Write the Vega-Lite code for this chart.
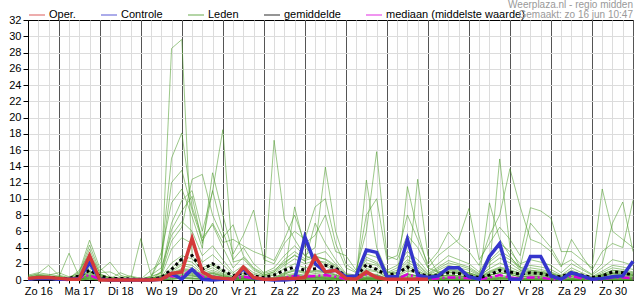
{
"$schema":"https://vega.github.io/schema/vega-lite/v6.json",
"width":605,"height":260,
"autosize":{"type":"none"},
"padding":{"left":28,"top":20,"right":2,"bottom":20},
"background":"white",
"title":{"text":"Weerplaza.nl - regio midden","subtitle":"Gemaakt: zo 16 jun 10:47","anchor":"end","frame":"group","fontSize":10,"fontWeight":"normal","font":"Liberation Sans","color":"#999999","subtitleFont":"Liberation Sans","subtitleFontSize":10,"subtitleColor":"#999999","subtitlePadding":0,"offset":-14},
"data":{"values":[
{"time":"2024-06-16T06:00:00Z","oper":0.2,"ctrl":0.1,"gem":0.1,"med":0.1,"a":0.1,"b":0.2,"c":0,"d":0.3,"e":0.1,"f":0,"g":0.4,"h":0.2,"i":0.1,"j":0,"k":0.3,"l":0.5,"m":0.1,"n":0.2,"o":0,"p":0.1,"q":0.6,"r":0.2,"s":0,"t":0.1,"u":0.3,"v":0.2,"w":0.1,"x":0,"y":0.2,"z":0.1},
{"time":"2024-06-16T12:00:00Z","oper":0.3,"ctrl":0.2,"gem":0.2,"med":0.2,"a":0.3,"b":0.5,"c":0.1,"d":0.6,"e":0.2,"f":0.1,"g":0.8,"h":0.4,"i":0.3,"j":0.1,"k":0.5,"l":0.7,"m":0.2,"n":0.4,"o":0.1,"p":0.3,"q":0.9,"r":0.5,"s":0.1,"t":0.2,"u":0.6,"v":0.3,"w":0.2,"x":0.1,"y":0.4,"z":0.3},
{"time":"2024-06-16T18:00:00Z","oper":0.3,"ctrl":0.2,"gem":0.3,"med":0.2,"a":0.2,"b":0.4,"c":0.1,"d":0.5,"e":0.3,"f":0.1,"g":1.8,"h":0.3,"i":0.2,"j":0.1,"k":0.4,"l":0.6,"m":0.2,"n":0.3,"o":0.1,"p":0.2,"q":0.7,"r":0.4,"s":0.1,"t":0.2,"u":0.5,"v":0.3,"w":0.1,"x":0.1,"y":0.3,"z":0.2},
{"time":"2024-06-17T00:00:00Z","oper":0.2,"ctrl":0.1,"gem":0.2,"med":0.1,"a":0.1,"b":0.3,"c":0,"d":0.4,"e":0.2,"f":0,"g":0.6,"h":0.2,"i":0.1,"j":0,"k":0.3,"l":0.9,"m":0.1,"n":0.2,"o":0,"p":0.1,"q":0.5,"r":0.3,"s":0,"t":0.1,"u":0.4,"v":0.2,"w":0.1,"x":0,"y":0.2,"z":0.1},
{"time":"2024-06-17T06:00:00Z","oper":0.1,"ctrl":0.1,"gem":0.2,"med":0,"a":0,"b":0.1,"c":0,"d":0.2,"e":0.1,"f":0,"g":0.3,"h":0.1,"i":0,"j":0,"k":3.3,"l":0.4,"m":0,"n":0.1,"o":0,"p":0,"q":0.2,"r":0.1,"s":0,"t":0,"u":0.2,"v":0.1,"w":0,"x":0,"y":0.1,"z":0},
{"time":"2024-06-17T12:00:00Z","oper":0.1,"ctrl":0.2,"gem":0.5,"med":0.3,"a":0.3,"b":0.6,"c":0.1,"d":1.0,"e":0.2,"f":0,"g":0.5,"h":0.4,"i":0.1,"j":0.1,"k":0.4,"l":0.8,"m":0.1,"n":0.3,"o":0,"p":0.2,"q":1.2,"r":0.5,"s":0.1,"t":0.1,"u":0.6,"v":0.3,"w":0.2,"x":0,"y":0.4,"z":0.2},
{"time":"2024-06-17T18:00:00Z","oper":3.0,"ctrl":2.1,"gem":1.2,"med":0.6,"a":1.2,"b":3.8,"c":0.3,"d":4.9,"e":0.6,"f":0.1,"g":2.6,"h":1.0,"i":0.4,"j":0.2,"k":0.8,"l":4.3,"m":0.3,"n":0.9,"o":0.1,"p":0.5,"q":3.2,"r":1.5,"s":0.2,"t":0.4,"u":2.2,"v":0.7,"w":0.5,"x":0.1,"y":1.1,"z":0.6},
{"time":"2024-06-18T00:00:00Z","oper":0,"ctrl":0.1,"gem":0.5,"med":0.1,"a":0.3,"b":0.8,"c":0.1,"d":1.5,"e":0.2,"f":0,"g":0.6,"h":0.4,"i":0.1,"j":0,"k":0.3,"l":1.1,"m":0.1,"n":0.3,"o":0,"p":0.2,"q":0.9,"r":0.5,"s":0.1,"t":0.1,"u":0.7,"v":0.2,"w":0.2,"x":0,"y":0.4,"z":0.3},
{"time":"2024-06-18T06:00:00Z","oper":0,"ctrl":0,"gem":0.2,"med":0,"a":0.1,"b":0.2,"c":0,"d":0.4,"e":0.1,"f":0,"g":0.3,"h":0.1,"i":0,"j":0,"k":0.1,"l":2.2,"m":0,"n":0.1,"o":0,"p":0,"q":1.0,"r":0.2,"s":0,"t":0,"u":0.3,"v":0.1,"w":0,"x":0,"y":0.1,"z":0.1},
{"time":"2024-06-18T12:00:00Z","oper":0,"ctrl":0,"gem":0.2,"med":0,"a":0,"b":0.1,"c":0,"d":0.2,"e":0,"f":0,"g":0.1,"h":0.3,"i":0,"j":0,"k":0,"l":0.6,"m":0,"n":0.1,"o":0,"p":0,"q":0.4,"r":0.1,"s":0,"t":0,"u":0.1,"v":0,"w":0,"x":0,"y":0.9,"z":0},
{"time":"2024-06-18T18:00:00Z","oper":0,"ctrl":0,"gem":0.1,"med":0,"a":0,"b":0,"c":0,"d":0.1,"e":0,"f":0,"g":0.2,"h":0.5,"i":0,"j":0,"k":0,"l":0.2,"m":0,"n":0,"o":0,"p":0,"q":0.1,"r":0,"s":0,"t":0,"u":0,"v":0,"w":0,"x":0,"y":0.4,"z":0},
{"time":"2024-06-19T00:00:00Z","oper":0,"ctrl":0,"gem":0.1,"med":0,"a":0,"b":0,"c":0,"d":0.1,"e":0,"f":0,"g":0.1,"h":0.2,"i":0,"j":0,"k":0,"l":0.1,"m":0,"n":0,"o":0,"p":5.1,"q":0.1,"r":0,"s":0,"t":0,"u":0,"v":0,"w":0,"x":0,"y":0.1,"z":0},
{"time":"2024-06-19T06:00:00Z","oper":0,"ctrl":0,"gem":0.1,"med":0,"a":0,"b":0.2,"c":0,"d":0.3,"e":0.1,"f":0,"g":0.5,"h":0.1,"i":0,"j":0,"k":0.2,"l":0.4,"m":0,"n":0.1,"o":0,"p":0.6,"q":1.2,"r":0.2,"s":0,"t":0,"u":0.3,"v":0.1,"w":0,"x":0,"y":0.2,"z":0},
{"time":"2024-06-19T12:00:00Z","oper":0.1,"ctrl":0.1,"gem":0.3,"med":0.1,"a":0.2,"b":0.6,"c":0.1,"d":2.8,"e":0.3,"f":0,"g":0.8,"h":0.4,"i":0.1,"j":0,"k":0.3,"l":3.4,"m":0.2,"n":0.5,"o":0,"p":1.5,"q":2.2,"r":0.5,"s":1.0,"t":0.1,"u":1.0,"v":0.3,"w":0.2,"x":0,"y":0.4,"z":0.2},
{"time":"2024-06-19T18:00:00Z","oper":0.8,"ctrl":0.8,"gem":1.3,"med":0.5,"a":1.5,"b":6.2,"c":0.3,"d":15.0,"e":0.9,"f":0.1,"g":4.8,"h":1.2,"i":0.5,"j":0.2,"k":0.8,"l":9.5,"m":0.4,"n":3.8,"o":0.1,"p":5.5,"q":12.0,"r":1.0,"s":28.5,"t":0.3,"u":7.0,"v":0.6,"w":0.7,"x":0.1,"y":2.1,"z":0.5},
{"time":"2024-06-20T00:00:00Z","oper":1.0,"ctrl":0.1,"gem":2.6,"med":0.4,"a":2.5,"b":8.5,"c":0.6,"d":18.1,"e":1.4,"f":0.3,"g":6.5,"h":2.0,"i":0.8,"j":0.3,"k":1.2,"l":11.2,"m":0.7,"n":5.2,"o":0.2,"p":7.2,"q":13.5,"r":1.8,"s":29.6,"t":0.5,"u":9.8,"v":1.1,"w":1.3,"x":0.2,"y":3.0,"z":0.9},
{"time":"2024-06-20T06:00:00Z","oper":5.1,"ctrl":1.3,"gem":3.0,"med":1.4,"a":2.2,"b":10.3,"c":0.5,"d":9.0,"e":1.3,"f":0.2,"g":12.4,"h":1.8,"i":0.7,"j":0.3,"k":1.1,"l":7.8,"m":0.6,"n":4.5,"o":0.2,"p":6.0,"q":8.6,"r":1.5,"s":3.0,"t":0.5,"u":11.0,"v":0.9,"w":1.2,"x":0.1,"y":2.6,"z":0.8},
{"time":"2024-06-20T12:00:00Z","oper":1.0,"ctrl":0.1,"gem":1.3,"med":0.4,"a":1.0,"b":4.5,"c":0.3,"d":5.2,"e":0.6,"f":0.1,"g":13.0,"h":0.8,"i":0.3,"j":0.1,"k":0.5,"l":3.9,"m":0.3,"n":2.2,"o":0.1,"p":3.0,"q":4.8,"r":0.7,"s":1.5,"t":0.2,"u":6.0,"v":0.4,"w":0.6,"x":0.1,"y":1.2,"z":0.4},
{"time":"2024-06-20T18:00:00Z","oper":0.3,"ctrl":0,"gem":2.0,"med":0.4,"a":1.5,"b":11.0,"c":0.4,"d":6.8,"e":0.9,"f":0.2,"g":8.0,"h":1.2,"i":0.5,"j":0.2,"k":0.8,"l":13.2,"m":0.4,"n":3.1,"o":0.1,"p":4.2,"q":7.0,"r":1.0,"s":2.0,"t":0.4,"u":10.9,"v":0.6,"w":0.8,"x":0.1,"y":1.8,"z":0.6},
{"time":"2024-06-21T00:00:00Z","oper":0.2,"ctrl":0.1,"gem":1.2,"med":0.2,"a":0.8,"b":6.0,"c":0.2,"d":4.0,"e":0.5,"f":0.1,"g":5.2,"h":0.7,"i":0.3,"j":0.1,"k":0.4,"l":8.0,"m":0.2,"n":1.9,"o":0.1,"p":2.5,"q":4.6,"r":0.6,"s":1.2,"t":0.2,"u":18.5,"v":0.3,"w":0.5,"x":0.1,"y":1.0,"z":0.3},
{"time":"2024-06-21T06:00:00Z","oper":0.1,"ctrl":0.1,"gem":0.5,"med":0.1,"a":0.3,"b":2.5,"c":0.1,"d":1.5,"e":0.2,"f":0,"g":6.8,"h":0.2,"i":0.1,"j":0,"k":0.1,"l":3.2,"m":0.1,"n":0.7,"o":0,"p":0.9,"q":5.0,"r":0.2,"s":0.4,"t":0.1,"u":2.2,"v":0.1,"w":0.2,"x":0,"y":0.4,"z":0.1},
{"time":"2024-06-21T12:00:00Z","oper":1.6,"ctrl":1.4,"gem":0.9,"med":0.4,"a":0.6,"b":4.0,"c":0.2,"d":2.8,"e":0.4,"f":0.1,"g":3.0,"h":0.5,"i":0.2,"j":0.1,"k":0.3,"l":5.5,"m":0.2,"n":1.3,"o":0,"p":1.8,"q":4.2,"r":0.5,"s":0.9,"t":0.1,"u":2.6,"v":0.3,"w":0.4,"x":0,"y":0.8,"z":0.2},
{"time":"2024-06-21T18:00:00Z","oper":0.3,"ctrl":0.2,"gem":0.5,"med":0.2,"a":0.3,"b":2.0,"c":0.1,"d":1.4,"e":0.2,"f":0,"g":1.5,"h":0.2,"i":0.1,"j":0,"k":0.1,"l":8.6,"m":0.1,"n":0.7,"o":0,"p":0.9,"q":3.5,"r":0.2,"s":0.4,"t":0.1,"u":1.2,"v":0.1,"w":0.2,"x":0,"y":0.4,"z":0.1},
{"time":"2024-06-22T00:00:00Z","oper":0.1,"ctrl":0.1,"gem":0.3,"med":0.1,"a":0.1,"b":0.9,"c":0,"d":0.6,"e":0.1,"f":0,"g":0.8,"h":0.1,"i":0,"j":0,"k":0.1,"l":2.5,"m":0,"n":0.4,"o":0,"p":0.5,"q":3.0,"r":0.1,"s":0.2,"t":0,"u":0.6,"v":0.1,"w":0.1,"x":0,"y":0.2,"z":0},
{"time":"2024-06-22T06:00:00Z","oper":0.1,"ctrl":0,"gem":0.6,"med":0.1,"a":0.2,"b":1.5,"c":0.1,"d":1.0,"e":0.1,"f":0,"g":1.2,"h":17.2,"i":0.1,"j":0,"k":0.2,"l":2.0,"m":0.1,"n":0.6,"o":0,"p":0.8,"q":2.4,"r":0.2,"s":0.3,"t":0,"u":1.0,"v":0.1,"w":0.2,"x":0,"y":0.3,"z":0.1},
{"time":"2024-06-22T12:00:00Z","oper":0.2,"ctrl":0,"gem":1.2,"med":0.3,"a":0.7,"b":3.0,"c":0.2,"d":2.5,"e":0.4,"f":0.1,"g":2.2,"h":7.5,"i":0.3,"j":0.1,"k":0.5,"l":4.5,"m":0.2,"n":1.4,"o":0.1,"p":1.8,"q":5.0,"r":0.6,"s":0.9,"t":0.1,"u":2.0,"v":0.3,"w":0.4,"x":0.1,"y":0.8,"z":0.2},
{"time":"2024-06-22T18:00:00Z","oper":0.2,"ctrl":0.1,"gem":1.6,"med":0.5,"a":1.2,"b":4.2,"c":0.3,"d":3.5,"e":0.6,"f":0.1,"g":3.0,"h":5.0,"i":0.4,"j":0.2,"k":9.0,"l":6.0,"m":0.4,"n":2.0,"o":0.1,"p":2.6,"q":8.0,"r":0.8,"s":1.3,"t":0.2,"u":3.1,"v":0.5,"w":0.7,"x":0.1,"y":1.1,"z":0.4},
{"time":"2024-06-23T00:00:00Z","oper":0.3,"ctrl":5.3,"gem":1.2,"med":0.4,"a":0.9,"b":3.0,"c":0.2,"d":2.6,"e":0.4,"f":0.1,"g":2.4,"h":3.0,"i":0.3,"j":0.1,"k":4.0,"l":5.0,"m":0.3,"n":1.5,"o":0.1,"p":2.0,"q":4.5,"r":0.6,"s":1.0,"t":0.2,"u":2.3,"v":0.4,"w":0.5,"x":0.1,"y":0.8,"z":0.3},
{"time":"2024-06-23T06:00:00Z","oper":2.9,"ctrl":2.0,"gem":1.4,"med":0.5,"a":1.1,"b":4.0,"c":0.3,"d":3.1,"e":0.5,"f":0.1,"g":2.8,"h":2.5,"i":0.4,"j":0.1,"k":3.0,"l":9.0,"m":0.3,"n":1.8,"o":0.1,"p":2.4,"q":5.5,"r":0.8,"s":1.2,"t":0.2,"u":7.0,"v":0.4,"w":0.6,"x":0.1,"y":1.0,"z":0.3},
{"time":"2024-06-23T12:00:00Z","oper":1.0,"ctrl":1.0,"gem":1.8,"med":0.6,"a":1.0,"b":13.9,"c":0.2,"d":3.5,"e":0.5,"f":0.1,"g":2.6,"h":2.0,"i":0.4,"j":0.1,"k":2.5,"l":10.0,"m":0.3,"n":1.7,"o":0.1,"p":2.2,"q":8.0,"r":0.7,"s":1.1,"t":0.2,"u":4.5,"v":0.4,"w":0.6,"x":0.1,"y":0.9,"z":0.3},
{"time":"2024-06-23T18:00:00Z","oper":1.2,"ctrl":1.2,"gem":1.5,"med":0.4,"a":0.6,"b":6.0,"c":0.2,"d":2.0,"e":0.3,"f":0.1,"g":1.8,"h":1.2,"i":0.2,"j":0.1,"k":1.6,"l":4.5,"m":0.2,"n":1.1,"o":0,"p":1.5,"q":3.5,"r":0.5,"s":0.7,"t":0.1,"u":2.5,"v":0.3,"w":0.4,"x":0,"y":0.6,"z":0.2},
{"time":"2024-06-24T00:00:00Z","oper":0.2,"ctrl":0.4,"gem":0.4,"med":0.1,"a":0.2,"b":2.0,"c":0,"d":0.7,"e":0.1,"f":0,"g":0.6,"h":0.4,"i":0.1,"j":0,"k":0.5,"l":1.5,"m":0,"n":0.4,"o":0,"p":0.5,"q":3.0,"r":0.1,"s":0.2,"t":0,"u":0.8,"v":0.1,"w":0.1,"x":0,"y":0.2,"z":0},
{"time":"2024-06-24T06:00:00Z","oper":0.1,"ctrl":0.5,"gem":0.4,"med":0.1,"a":0.1,"b":1.0,"c":0,"d":0.5,"e":0.1,"f":0,"g":0.5,"h":0.3,"i":0,"j":0,"k":0.4,"l":0.9,"m":0,"n":0.3,"o":0,"p":0.4,"q":1.2,"r":0.1,"s":0.2,"t":0,"u":0.6,"v":0.1,"w":0.1,"x":0,"y":0.1,"z":0},
{"time":"2024-06-24T12:00:00Z","oper":1.0,"ctrl":3.7,"gem":1.9,"med":0.7,"a":0.7,"b":3.2,"c":0.2,"d":2.5,"e":0.4,"f":0.1,"g":2.1,"h":1.4,"i":0.3,"j":0.1,"k":1.2,"l":8.0,"m":0.2,"n":12.3,"o":0,"p":1.7,"q":6.0,"r":0.6,"s":0.8,"t":0.1,"u":2.8,"v":0.3,"w":0.4,"x":0.1,"y":0.7,"z":0.2},
{"time":"2024-06-24T18:00:00Z","oper":0.3,"ctrl":3.4,"gem":1.3,"med":0.4,"a":0.6,"b":2.8,"c":0.1,"d":2.0,"e":0.3,"f":0.1,"g":1.8,"h":1.1,"i":0.2,"j":0.1,"k":1.0,"l":10.0,"m":0.2,"n":4.0,"o":0,"p":1.4,"q":15.8,"r":0.5,"s":0.7,"t":0.1,"u":2.2,"v":0.3,"w":0.4,"x":0,"y":0.6,"z":0.2},
{"time":"2024-06-25T00:00:00Z","oper":0.1,"ctrl":0.4,"gem":0.6,"med":0.1,"a":0.2,"b":1.2,"c":0,"d":0.8,"e":0.1,"f":0,"g":0.6,"h":0.4,"i":0.1,"j":0,"k":0.3,"l":2.5,"m":0,"n":1.0,"o":0,"p":0.5,"q":3.0,"r":0.1,"s":0.2,"t":0,"u":0.9,"v":0.1,"w":0.1,"x":0,"y":0.2,"z":0},
{"time":"2024-06-25T06:00:00Z","oper":0.1,"ctrl":0.4,"gem":0.8,"med":0.1,"a":0.3,"b":1.8,"c":0.1,"d":1.2,"e":0.2,"f":0,"g":1.0,"h":0.6,"i":0.1,"j":0,"k":0.5,"l":3.0,"m":0.1,"n":0.8,"o":0,"p":0.8,"q":2.5,"r":0.2,"s":0.4,"t":0,"u":1.5,"v":0.1,"w":0.2,"x":0,"y":0.3,"z":0.1},
{"time":"2024-06-25T12:00:00Z","oper":0.1,"ctrl":5.0,"gem":1.6,"med":0.7,"a":0.7,"b":3.5,"c":0.2,"d":2.5,"e":0.4,"f":0.1,"g":2.2,"h":1.3,"i":0.3,"j":0.1,"k":1.1,"l":8.0,"m":0.2,"n":1.9,"o":0.1,"p":1.6,"q":5.5,"r":0.6,"s":0.8,"t":0.1,"u":3.0,"v":11.5,"w":0.4,"x":0.1,"y":0.7,"z":0.2},
{"time":"2024-06-25T18:00:00Z","oper":0.1,"ctrl":0.6,"gem":0.8,"med":0.3,"a":0.5,"b":2.5,"c":0.1,"d":1.8,"e":0.3,"f":12.4,"g":1.5,"h":0.9,"i":0.2,"j":0.1,"k":0.8,"l":5.0,"m":0.1,"n":1.2,"o":0,"p":1.1,"q":4.0,"r":0.4,"s":0.5,"t":0.1,"u":2.0,"v":6.0,"w":0.3,"x":0,"y":0.5,"z":0.1},
{"time":"2024-06-26T00:00:00Z","oper":0.1,"ctrl":0.3,"gem":0.5,"med":0.1,"a":0.2,"b":1.0,"c":0,"d":0.7,"e":0.1,"f":3.0,"g":0.6,"h":0.4,"i":0.1,"j":0,"k":0.3,"l":2.0,"m":0,"n":0.5,"o":0,"p":0.4,"q":1.5,"r":0.1,"s":0.2,"t":0,"u":0.8,"v":1.5,"w":0.1,"x":0,"y":0.2,"z":0},
{"time":"2024-06-26T06:00:00Z","ctrl":0.5,"gem":0.6,"med":0.2,"a":0.4,"b":2.0,"c":0.1,"d":1.4,"e":0.2,"f":0.8,"g":1.2,"h":0.7,"i":0.1,"j":0,"k":0.6,"l":3.5,"m":0.1,"n":0.9,"o":0,"p":0.9,"q":3.0,"r":0.3,"s":0.4,"t":0.1,"u":1.6,"v":1.0,"w":0.2,"x":0,"y":0.4,"z":0.1},
{"time":"2024-06-26T12:00:00Z","ctrl":1.5,"gem":0.9,"med":0.3,"a":0.6,"b":3.0,"c":0.1,"d":2.1,"e":0.3,"f":1.0,"g":1.8,"h":1.0,"i":0.2,"j":0.1,"k":0.9,"l":5.9,"m":0.2,"n":1.3,"o":0,"p":1.4,"q":4.0,"r":0.4,"s":0.6,"t":0.1,"u":2.4,"v":1.2,"w":0.4,"x":0,"y":0.6,"z":0.2},
{"time":"2024-06-26T18:00:00Z","ctrl":1.5,"gem":0.8,"med":0.3,"a":0.5,"b":2.5,"c":0.1,"d":1.8,"e":0.3,"f":0.8,"g":1.5,"h":0.9,"i":0.2,"j":0.1,"k":0.8,"l":4.5,"m":0.1,"n":1.1,"o":0,"p":1.2,"q":5.0,"r":0.4,"s":0.5,"t":0.1,"u":2.0,"v":1.0,"w":0.3,"x":0,"y":0.5,"z":0.1},
{"time":"2024-06-27T00:00:00Z","ctrl":0.4,"gem":0.5,"med":0.2,"a":0.4,"b":2.0,"c":0.1,"d":1.4,"e":0.2,"f":0.6,"g":1.2,"h":0.7,"i":0.1,"j":0,"k":0.6,"l":3.5,"m":0.1,"n":0.9,"o":0,"p":0.9,"q":8.8,"r":0.3,"s":0.4,"t":0.1,"u":1.6,"v":0.8,"w":0.2,"x":0,"y":0.4,"z":0.1},
{"time":"2024-06-27T06:00:00Z","ctrl":0.1,"gem":0.3,"med":0.1,"a":0.2,"b":1.0,"c":0,"d":0.7,"e":0.1,"f":0.3,"g":0.6,"h":0.3,"i":0.1,"j":0,"k":0.3,"l":1.8,"m":0,"n":0.5,"o":0,"p":0.5,"q":2.5,"r":0.1,"s":0.2,"t":0,"u":0.8,"v":0.4,"w":0.1,"x":0,"y":0.2,"z":0},
{"time":"2024-06-27T12:00:00Z","ctrl":2.9,"gem":0.6,"med":0.3,"a":0.6,"b":3.0,"c":0.1,"d":2.2,"e":0.3,"f":0.8,"g":1.8,"h":1.0,"i":0.2,"j":0.1,"k":0.9,"l":5.5,"m":0.2,"n":1.4,"o":0,"p":1.4,"q":4.5,"r":9.5,"s":0.6,"t":0.1,"u":2.4,"v":1.1,"w":0.4,"x":0,"y":0.6,"z":0.2},
{"time":"2024-06-27T18:00:00Z","ctrl":4.5,"gem":1.2,"med":0.6,"a":0.9,"b":4.5,"c":0.2,"d":3.2,"e":0.5,"f":1.2,"g":2.7,"h":1.5,"i":0.3,"j":0.1,"k":1.4,"l":8.0,"m":0.3,"n":14.9,"o":0.1,"p":2.1,"q":6.5,"r":5.0,"s":0.9,"t":0.2,"u":3.6,"v":1.6,"w":0.6,"x":0.1,"y":0.9,"z":0.3},
{"time":"2024-06-28T00:00:00Z","ctrl":0.1,"gem":1.0,"med":0.3,"a":0.7,"b":3.5,"c":0.2,"d":2.5,"e":0.4,"f":0.9,"g":2.1,"h":1.2,"i":0.3,"j":0.1,"k":1.0,"l":13.7,"m":0.2,"n":4.0,"o":0.1,"p":1.6,"q":5.0,"r":3.0,"s":0.7,"t":0.1,"u":2.8,"v":1.3,"w":0.4,"x":0.1,"y":0.7,"z":0.2},
{"time":"2024-06-28T06:00:00Z","ctrl":0.1,"gem":0.7,"med":0.2,"a":0.4,"b":2.0,"c":0.1,"d":1.5,"e":0.2,"f":0.6,"g":1.2,"h":0.7,"i":0.1,"j":0,"k":0.6,"l":9.0,"m":0.1,"n":1.5,"o":0,"p":1.0,"q":3.0,"r":1.2,"s":0.4,"t":0.1,"u":1.6,"v":0.8,"w":0.2,"x":0,"y":0.4,"z":0.1},
{"time":"2024-06-28T12:00:00Z","ctrl":2.9,"gem":0.9,"med":0.3,"a":0.5,"b":2.5,"c":0.1,"d":1.8,"e":0.3,"f":0.7,"g":1.5,"h":0.9,"i":0.2,"j":0.1,"k":0.8,"l":5.0,"m":0.1,"n":1.2,"o":0,"p":1.2,"q":8.9,"r":1.0,"s":0.5,"t":0.1,"u":7.0,"v":1.0,"w":0.3,"x":0,"y":0.5,"z":0.2},
{"time":"2024-06-28T18:00:00Z","ctrl":2.9,"gem":0.8,"med":0.3,"a":0.4,"b":2.2,"c":0.1,"d":1.6,"e":0.2,"f":0.6,"g":1.3,"h":0.8,"i":0.2,"j":0,"k":0.7,"l":4.5,"m":0.1,"n":1.0,"o":0,"p":1.1,"q":8.5,"r":0.9,"s":0.5,"t":0.1,"u":5.5,"v":0.9,"w":0.3,"x":0,"y":0.4,"z":0.1},
{"time":"2024-06-29T00:00:00Z","ctrl":0.5,"gem":0.5,"med":0.1,"a":0.3,"b":1.8,"c":0.1,"d":1.3,"e":0.2,"f":0.5,"g":1.0,"h":0.6,"i":0.1,"j":0,"k":0.5,"l":3.5,"m":0.1,"n":0.8,"o":0,"p":0.9,"q":7.6,"r":0.7,"s":0.4,"t":0.1,"u":4.0,"v":0.7,"w":0.2,"x":0,"y":0.3,"z":0.1},
{"time":"2024-06-29T06:00:00Z","ctrl":0.1,"gem":0.4,"med":0.1,"a":0.1,"b":0.9,"c":0,"d":0.6,"e":0.1,"f":0.2,"g":0.5,"h":0.3,"i":0,"j":0,"k":0.2,"l":1.6,"m":0,"n":0.4,"o":0,"p":0.4,"q":3.5,"r":0.3,"s":0.2,"t":0,"u":1.8,"v":0.3,"w":0.1,"x":0,"y":0.1,"z":0},
{"time":"2024-06-29T12:00:00Z","ctrl":0.9,"gem":0.9,"med":0.5,"a":0.4,"b":2.0,"c":0.1,"d":1.5,"e":0.2,"f":0.6,"g":1.2,"h":0.7,"i":0.1,"j":0,"k":0.6,"l":5.0,"m":0.1,"n":0.9,"o":0,"p":1.0,"q":3.5,"r":0.7,"s":0.4,"t":0.1,"u":2.5,"v":0.8,"w":0.2,"x":0,"y":0.4,"z":0.1},
{"time":"2024-06-29T18:00:00Z","ctrl":0.5,"gem":0.6,"med":0.2,"a":0.2,"b":1.3,"c":0,"d":0.9,"e":0.1,"f":0.4,"g":0.7,"h":0.4,"i":0.1,"j":0,"k":0.4,"l":3.0,"m":0,"n":0.6,"o":0,"p":0.6,"q":2.5,"r":0.4,"s":0.3,"t":0,"u":1.5,"v":0.5,"w":0.1,"x":0,"y":0.2,"z":0.1},
{"time":"2024-06-30T00:00:00Z","ctrl":0.1,"gem":0.3,"med":0.1,"a":0.1,"b":0.6,"c":0,"d":0.4,"e":0,"f":0.2,"g":0.3,"h":0.2,"i":0,"j":0,"k":0.2,"l":1.2,"m":0,"n":0.3,"o":0,"p":0.3,"q":1.5,"r":0.2,"s":0.1,"t":0,"u":0.7,"v":0.2,"w":0,"x":0,"y":0.1,"z":0},
{"time":"2024-06-30T06:00:00Z","ctrl":0.2,"gem":0.5,"med":0.1,"a":0.3,"b":1.5,"c":0.1,"d":1.1,"e":0.2,"f":0.4,"g":0.9,"h":0.5,"i":0.1,"j":0,"k":0.5,"l":3.5,"m":0.1,"n":0.7,"o":0,"p":0.7,"q":11.2,"r":0.5,"s":0.3,"t":0,"u":2.0,"v":0.6,"w":0.2,"x":0,"y":0.3,"z":0.1},
{"time":"2024-06-30T12:00:00Z","ctrl":0.4,"gem":1.0,"med":0.3,"a":0.5,"b":2.5,"c":0.1,"d":1.8,"e":0.3,"f":0.7,"g":1.5,"h":0.9,"i":0.2,"j":0.1,"k":0.8,"l":4.5,"m":0.1,"n":1.2,"o":0,"p":1.2,"q":6.0,"r":0.8,"s":0.5,"t":0.1,"u":7.0,"v":1.0,"w":0.3,"x":0,"y":0.5,"z":0.2},
{"time":"2024-06-30T18:00:00Z","ctrl":0.5,"gem":0.9,"med":0.3,"a":0.4,"b":2.2,"c":0.1,"d":1.6,"e":0.2,"f":0.6,"g":1.3,"h":0.8,"i":0.2,"j":0,"k":0.7,"l":4.0,"m":0.1,"n":1.0,"o":0,"p":1.1,"q":5.0,"r":0.7,"s":0.5,"t":0.1,"u":9.6,"v":0.9,"w":0.3,"x":0,"y":0.4,"z":0.1},
{"time":"2024-07-01T00:00:00Z","ctrl":2.3,"gem":0.6,"med":0.2,"a":0.3,"b":1.8,"c":0.1,"d":1.3,"e":0.2,"f":0.5,"g":1.0,"h":0.6,"i":0.1,"j":0,"k":0.6,"l":9.8,"m":0.1,"n":0.8,"o":0,"p":0.9,"q":4.0,"r":0.6,"s":0.4,"t":0.1,"u":3.5,"v":0.7,"w":0.2,"x":0,"y":0.3,"z":0.1}
]},
"layer":[
{"transform":[{"fold":["a","b","c","d","e","f","g","h","i","j","k","l","m","n","o","p","q","r","s","t","u","v","w","x","y","z"],"as":["member","value"]}],
 "mark":{"type":"line","strokeWidth":1,"opacity":0.55},
 "encoding":{
  "x":{"field":"time","type":"temporal","scale":{"type":"utc","domain":[1718517600000,1719792000000]},"axis":{"orient":"bottom","title":null,"labels":false,"domain":false,"ticks":true,"tickSize":3,"tickColor":"#000","values":[1718539200000,1718560800000,1718582400000,1718604000000,1718625600000,1718647200000,1718668800000,1718690400000,1718712000000,1718733600000,1718755200000,1718776800000,1718798400000,1718820000000,1718841600000,1718863200000,1718884800000,1718906400000,1718928000000,1718949600000,1718971200000,1718992800000,1719014400000,1719036000000,1719057600000,1719079200000,1719100800000,1719122400000,1719144000000,1719165600000,1719187200000,1719208800000,1719230400000,1719252000000,1719273600000,1719295200000,1719316800000,1719338400000,1719360000000,1719381600000,1719403200000,1719424800000,1719446400000,1719468000000,1719489600000,1719511200000,1719532800000,1719554400000,1719576000000,1719597600000,1719619200000,1719640800000,1719662400000,1719684000000,1719705600000,1719727200000,1719748800000,1719770400000],"grid":true,"gridColor":"#dcdcdc"}},
  "y":{"field":"value","type":"quantitative","scale":{"domain":[0,32],"nice":false},"axis":{"orient":"left","title":null,"values":[0,2,4,6,8,10,12,14,16,18,20,22,24,26,28,30,32],"grid":true,"gridColor":{"condition":{"test":"datum.value===0||datum.value===32","value":"transparent"},"value":"#dcdcdc"},"domain":true,"domainColor":"#000","tickColor":"#000","tickSize":5,"labelPadding":2,"labelFontSize":11,"labelColor":"#000","labelFont":"Liberation Sans"}},
  "detail":{"field":"member","type":"nominal"},
  "color":{"datum":"Leden","type":"nominal","scale":{"domain":["Oper.","Controle","Leden","gemiddelde","mediaan (middelste waarde)"],"range":["#d43a3a","#3535cc","#4a9a28","#000000","#dd00dd"]},
   "legend":{"orient":"none","legendX":0,"legendY":-14,"direction":"horizontal","title":null,"symbolType":"stroke","symbolSize":256,"labelFontSize":11,"labelFont":"Liberation Sans","labelColor":"#000","labelOffset":3,"columnPadding":22,"padding":0,
    "encode":{"symbols":{"strokeWidth":{"condition":{"test":"datum.value==='Leden'","value":1.5},"value":3.5},"opacity":{"condition":{"test":"datum.value==='Leden'","value":0.45},"value":1},"strokeDash":{"condition":[{"test":"datum.value==='gemiddelde'","value":[3,3]},{"test":"datum.value==='mediaan (middelste waarde)'","value":[8,3,2,3]}],"value":[1,0]}}}}}
 }},
{"mark":{"type":"line","strokeWidth":2.5,"strokeDash":[8,3,2,3]},
 "encoding":{
  "x":{"field":"time","type":"temporal","axis":{"orient":"bottom","title":null,"labels":false,"domain":false,"ticks":false,"values":[1718582400000,1718668800000,1718755200000,1718841600000,1718928000000,1719014400000,1719100800000,1719187200000,1719273600000,1719360000000,1719446400000,1719532800000,1719619200000,1719705600000,1719792000000],"grid":true,"gridColor":"#555555"}},
  "y":{"field":"med","type":"quantitative","axis":null},
  "color":{"datum":"mediaan (middelste waarde)","type":"nominal"}
 }},
{"mark":{"type":"line","strokeWidth":3,"strokeDash":[3,3]},
 "encoding":{
  "x":{"field":"time","type":"temporal","axis":{"orient":"bottom","title":null,"values":[1718539200000,1718625600000,1718712000000,1718798400000,1718884800000,1718971200000,1719057600000,1719144000000,1719230400000,1719316800000,1719403200000,1719489600000,1719576000000,1719662400000,1719748800000],"labelExpr":"['Zo','Ma','Di','Wo','Do','Vr','Za'][utcday(datum.value)] + ' ' + utcdate(datum.value)","grid":false,"ticks":false,"domain":true,"domainColor":"#000","labelPadding":5,"labelFontSize":11,"labelColor":"#000","labelFont":"Liberation Sans","labelFlush":false,"labelOverlap":false}},
  "y":{"field":"gem","type":"quantitative","axis":null},
  "color":{"datum":"gemiddelde","type":"nominal"}
 }},
{"mark":{"type":"line","strokeWidth":3.5},
 "encoding":{
  "x":{"field":"time","type":"temporal","axis":null},
  "y":{"field":"ctrl","type":"quantitative","axis":null},
  "color":{"datum":"Controle","type":"nominal"}
 }},
{"mark":{"type":"line","strokeWidth":3.5},
 "encoding":{
  "x":{"field":"time","type":"temporal","axis":null},
  "y":{"field":"oper","type":"quantitative","axis":null},
  "color":{"datum":"Oper.","type":"nominal"}
 }}
],
"resolve":{"axis":{"x":"independent","y":"independent"}},
"config":{"view":{"stroke":"#000","strokeWidth":1},"font":"Liberation Sans"}
}
